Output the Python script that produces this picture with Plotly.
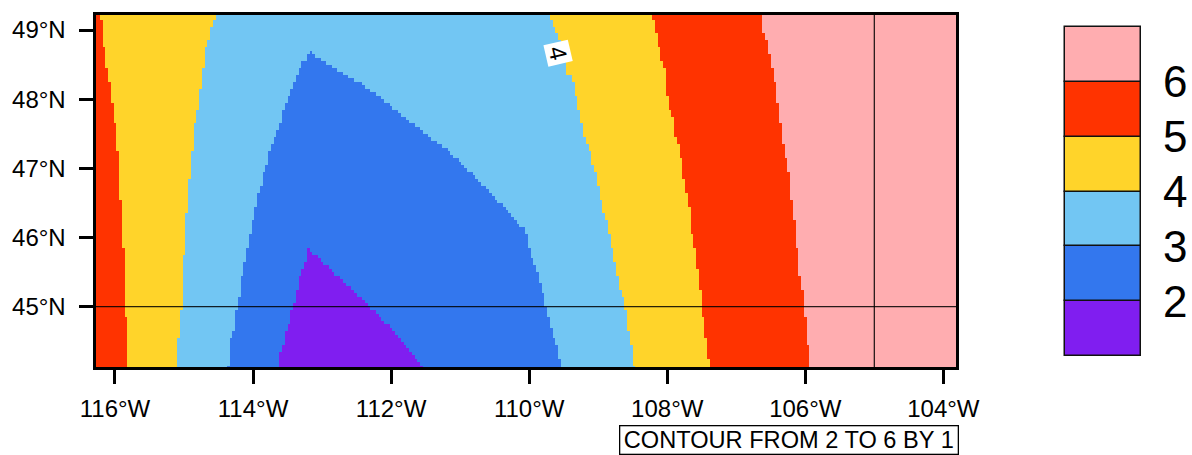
import numpy as np
import plotly.graph_objects as go

W, H = 1192, 455

LATS = [49.2, 49.1, 49.0, 48.9, 48.8, 48.7, 48.6, 48.5, 48.4, 48.3, 48.2, 48.1, 48.0,
        47.9, 47.8, 47.7, 47.6, 47.5, 47.4, 47.3, 47.2, 47.1, 47.0, 46.9, 46.8, 46.7, 46.6,
        46.5, 46.4, 46.3, 46.2, 46.1, 46.0, 45.9, 45.8, 45.7, 45.6, 45.5, 45.4, 45.3, 45.2,
        45.1, 45.0, 44.9, 44.8, 44.7, 44.6, 44.5, 44.4, 44.3, 44.2, 44.1]

# Longitude of each contour band edge, one value per 0.1 degree latitude row (north to south).
EDGE_5_4_WEST = [-116.20, -116.19, -116.18, -116.17, -116.16, -116.15, -116.135, -116.12, -116.105, -116.09,
                 -116.07, -116.055, -116.04, -116.025, -116.01, -116.00, -115.99, -115.98, -115.97, -115.96,
                 -115.95, -115.945, -115.94, -115.935, -115.93, -115.925, -115.92, -115.91, -115.905, -115.90,
                 -115.895, -115.89, -115.885, -115.88, -115.875, -115.87, -115.865, -115.865, -115.86, -115.86,
                 -115.855, -115.85, -115.85, -115.84, -115.83, -115.825, -115.82, -115.82, -115.815, -115.815,
                 -115.815, -115.815]
EDGE_4_3_WEST = [-114.55, -114.58, -114.61, -114.63, -114.66, -114.68, -114.69, -114.70, -114.72, -114.73,
                 -114.75, -114.76, -114.78, -114.79, -114.80, -114.82, -114.84, -114.85, -114.86, -114.87,
                 -114.88, -114.89, -114.90, -114.91, -114.92, -114.93, -114.93, -114.94, -114.95, -114.96,
                 -114.97, -114.97, -114.98, -114.98, -114.99, -115.00, -115.00, -115.01, -115.01, -115.02,
                 -115.02, -115.03, -115.03, -115.05, -115.05, -115.06, -115.07, -115.08, -115.08, -115.09,
                 -115.09, -115.09]
# Rows from 48.7N southward
EDGE_3_2_WEST = [-113.19, -113.23, -113.28, -113.32, -113.36, -113.40, -113.44, -113.48, -113.52, -113.56,
                 -113.59, -113.63, -113.66, -113.69, -113.72, -113.76, -113.78, -113.81, -113.84, -113.87,
                 -113.89, -113.92, -113.94, -113.96, -113.98, -114.00, -114.03, -114.05, -114.07, -114.09,
                 -114.11, -114.13, -114.15, -114.16, -114.18, -114.19, -114.21, -114.23, -114.25, -114.26,
                 -114.27, -114.30, -114.32, -114.33, -114.34, -114.35, -114.36]
# Rows from 45.8N southward
EDGE_2_1_WEST = [-113.20, -113.23, -113.27, -113.30, -113.33, -113.35, -113.37, -113.39, -113.41, -113.44,
                 -113.46, -113.50, -113.52, -113.55, -113.58, -113.60, -113.62, -113.63]
EDGE_3_4_EAST = [-109.70, -109.66, -109.62, -109.57, -109.54, -109.51, -109.48, -109.46, -109.44, -109.39,
                 -109.35, -109.33, -109.31, -109.29, -109.27, -109.25, -109.22, -109.20, -109.17, -109.14,
                 -109.10, -109.08, -109.05, -109.03, -109.00, -108.98, -108.96, -108.94, -108.92, -108.89,
                 -108.86, -108.84, -108.82, -108.81, -108.78, -108.76, -108.74, -108.72, -108.70, -108.68,
                 -108.65, -108.63, -108.61, -108.59, -108.57, -108.56, -108.54, -108.52, -108.50, -108.49,
                 -108.48, -108.47]
EDGE_4_5_EAST = [-108.20, -108.18, -108.16, -108.15, -108.12, -108.10, -108.08, -108.05, -108.03, -108.02,
                 -108.01, -108.00, -107.98, -107.96, -107.93, -107.91, -107.90, -107.88, -107.85, -107.83,
                 -107.81, -107.79, -107.77, -107.76, -107.74, -107.73, -107.71, -107.69, -107.67, -107.66,
                 -107.65, -107.64, -107.63, -107.62, -107.59, -107.57, -107.56, -107.55, -107.53, -107.52,
                 -107.51, -107.50, -107.49, -107.48, -107.46, -107.45, -107.44, -107.43, -107.42, -107.40,
                 -107.39, -107.39]
EDGE_5_6_EAST = [-106.63, -106.62, -106.60, -106.57, -106.54, -106.52, -106.50, -106.48, -106.46, -106.44,
                 -106.42, -106.41, -106.40, -106.39, -106.37, -106.36, -106.35, -106.33, -106.32, -106.30,
                 -106.28, -106.26, -106.25, -106.23, -106.23, -106.22, -106.20, -106.18, -106.17, -106.16,
                 -106.15, -106.14, -106.13, -106.12, -106.11, -106.10, -106.09, -106.08, -106.07, -106.05,
                 -106.03, -106.02, -106.01, -106.00, -105.99, -105.99, -105.98, -105.96, -105.95, -105.95,
                 -105.94, -105.94]

# The two diagonal edges are read twice as finely: one value per 0.05 degree row.
# Rows from 48.675N southward
EDGE_3_2_EAST = [-113.15, -113.08, -113.02, -112.95, -112.87, -112.78, -112.69, -112.61, -112.52, -112.43,
                 -112.36, -112.29, -112.22, -112.15, -112.09, -112.02, -111.97, -111.90, -111.84, -111.78,
                 -111.72, -111.66, -111.59, -111.53, -111.46, -111.40, -111.33, -111.26, -111.19, -111.13,
                 -111.08, -111.03, -110.98, -110.93, -110.88, -110.83, -110.78, -110.73, -110.68, -110.63,
                 -110.58, -110.53, -110.49, -110.44, -110.39, -110.35, -110.30, -110.25, -110.21, -110.17,
                 -110.12, -110.07, -110.04, -110.03, -110.02, -110.01, -110.00, -109.99, -109.97, -109.96,
                 -109.95, -109.92, -109.90, -109.88, -109.87, -109.85, -109.84, -109.83, -109.82, -109.80,
                 -109.79, -109.78, -109.77, -109.76, -109.75, -109.73, -109.72, -109.70, -109.69, -109.68,
                 -109.66, -109.65, -109.64, -109.63, -109.61, -109.59, -109.58, -109.57, -109.56, -109.55,
                 -109.54, -109.53, -109.53]
# Rows from 45.825N southward
EDGE_2_1_EAST = [-113.17, -113.12, -113.07, -113.02, -112.96, -112.91, -112.85, -112.80, -112.75, -112.69,
                 -112.64, -112.59, -112.54, -112.49, -112.43, -112.38, -112.33, -112.28, -112.23, -112.18,
                 -112.13, -112.08, -112.03, -111.99, -111.94, -111.90, -111.85, -111.80, -111.76, -111.72,
                 -111.68, -111.65, -111.61, -111.57, -111.53, -111.49]

BAND_COLORS = ["#801EF0", "#3377EE", "#72C6F3", "#FFD42A", "#FF3300", "#FFADB0"]
BAND_LEVELS = [1, 2, 3, 4, 5, 6]
LEGEND_TICKS = [2, 3, 4, 5, 6]
LON_TICKS = [-116, -114, -112, -110, -108, -106, -104]
LON_LABELS = ["116°W", "114°W", "112°W", "110°W", "108°W", "106°W", "104°W"]
LAT_TICKS = [45, 46, 47, 48, 49]
LAT_LABELS = ["45°N", "46°N", "47°N", "48°N", "49°N"]
GRID_LON = [-105, -105]
GRID_LAT = [45, 45]
INFO = "CONTOUR FROM 2 TO 6 BY 1"

x_range = [-116.282, -103.817]
y_range = [44.128, 49.217]
lons = np.arange(-116.32, -103.76, 0.04)
fine_lats = [v for lat in LATS for v in (round(lat + 0.025, 3), round(lat - 0.025, 3))]
rows = len(fine_lats)


def doubled(edge):
    return [v for v in edge for _ in (0, 1)]


def padded(edge):
    return [None] * (rows - len(edge)) + list(edge)


a_w, b_w = doubled(EDGE_5_4_WEST), doubled(EDGE_4_3_WEST)
g_e, h_e, i_e = doubled(EDGE_3_4_EAST), doubled(EDGE_4_5_EAST), doubled(EDGE_5_6_EAST)
blue_w, blue_e = padded(doubled(EDGE_3_2_WEST)), padded(EDGE_3_2_EAST)
purple_w, purple_e = padded(doubled(EDGE_2_1_WEST)), padded(EDGE_2_1_EAST)

z = []
for i in range(rows):
    row = np.full(lons.shape, 5)
    row[lons < i_e[i]] = 4
    row[lons < h_e[i]] = 3
    row[lons < g_e[i]] = 2
    if blue_e[i] is not None:
        row[(lons >= blue_w[i]) & (lons < blue_e[i])] = 1
    if purple_e[i] is not None:
        row[(lons >= purple_w[i]) & (lons < purple_e[i])] = 0
    row[lons < b_w[i]] = 3
    row[lons < a_w[i]] = 4
    z.append(row.tolist())

n = len(BAND_COLORS)
colorscale = []
for k, c in enumerate(BAND_COLORS):
    colorscale += [[k / n, c], [(k + 1) / n, c]]

fig = go.Figure()
fig.add_trace(go.Heatmap(x=lons.tolist(), y=fine_lats[::-1], z=z[::-1], zmin=-0.5, zmax=5.5,
                         colorscale=colorscale, showscale=False, zsmooth=False))
fig.add_trace(go.Scatter(x=GRID_LON, y=y_range, mode="lines", line=dict(color="rgba(0,0,0,0.85)", width=1.3),
                         showlegend=False, hoverinfo="skip"))
fig.add_trace(go.Scatter(x=x_range, y=GRID_LAT, mode="lines", line=dict(color="rgba(0,0,0,0.85)", width=1.3),
                         showlegend=False, hoverinfo="skip"))
fig.add_trace(go.Bar(x=[0.5] * n, y=[1] * n, base=BAND_LEVELS, width=1, xaxis="x2", yaxis="y2",
                     marker=dict(color=BAND_COLORS, line=dict(color="#111111", width=1.5)),
                     showlegend=False, hoverinfo="skip"))

FONT = "Liberation Sans, Arial, Helvetica, sans-serif"
fig.update_layout(
    width=W, height=H, margin=dict(l=0, r=0, t=0, b=0, autoexpand=False), paper_bgcolor="white", plot_bgcolor="white",
    font=dict(family=FONT, color="black"), showlegend=False,
    xaxis=dict(domain=[95.5 / W, 956 / W], range=x_range, tickvals=LON_TICKS, ticktext=LON_LABELS,
               ticks="outside", ticklen=14, tickwidth=2.5, tickcolor="black", showgrid=False, zeroline=False,
               showline=True, linecolor="black", linewidth=3, mirror=True, tickfont=dict(size=24),
               tickangle=0, anchor="y", ticklabelstandoff=4, automargin=False),
    yaxis=dict(domain=[1 - 367 / H, 1 - 15 / H], range=y_range, tickvals=LAT_TICKS, ticktext=LAT_LABELS,
               ticks="outside", ticklen=14, tickwidth=2.5, tickcolor="black", showgrid=False, zeroline=False,
               showline=True, linecolor="black", linewidth=3, mirror=True, tickfont=dict(size=24),
               anchor="x", ticklabelstandoff=8, automargin=False),
    xaxis2=dict(domain=[1063 / W, 1143 / W], range=[-2 / 76, 1 + 2 / 76], visible=False, anchor="y2",
                fixedrange=True, automargin=False),
    yaxis2=dict(domain=[1 - 358 / H, 1 - 25 / H], range=[1 - 2 / 54.83, 7 + 2 / 54.83], tickvals=LEGEND_TICKS,
                side="right", anchor="x2", showgrid=False, zeroline=False, ticks="", showline=False,
                tickfont=dict(size=44), ticklabelstandoff=19, automargin=False),
    bargap=0,
    annotations=[
        dict(xref="x", yref="y", x=-109.58, y=48.67, text="4", showarrow=False, textangle=77,
             bgcolor="white", width=21, height=24, borderpad=0, font=dict(size=24, color="black")),
        dict(xref="paper", yref="paper", x=958.5 / W, y=1 - 439.5 / H, xanchor="right", yanchor="middle",
             text=INFO, showarrow=False, width=337, height=27, borderpad=0, borderwidth=1.3, bordercolor="black",
             bgcolor="white", font=dict(size=23.6, color="black")),
    ],
)
fig.write_html("out.html", config={"displayModeBar": False}, post_script="document.body.style.margin='0';")
